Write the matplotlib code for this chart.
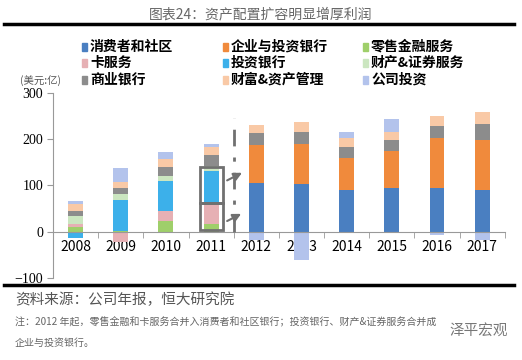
import matplotlib.pyplot as plt
import numpy as np
from matplotlib.patches import Rectangle
from matplotlib.lines import Line2D

plt.rcParams['font.family'] = ['Noto Sans CJK SC', 'DejaVu Sans']

years = ['2008', '2009', '2010', '2011', '2012', '2013', '2014', '2015', '2016', '2017']

# 亿美元, stacked in this order
ccb = [0, 0, 0, 0, 104, 103, 90, 95, 95, 91]          # 消费者和社区
cib = [0, 0, 0, 0, 83, 87, 70, 80, 108, 108]          # 企业与投资银行
rfs = [9, 1, 23, 17, 0, 0, 0, 0, 0, 0]                # 零售金融服务
card = [7, -22, 21, 45, 0, 0, 0, 0, 0, 0]             # 卡服务
ib = [-14, 68, 66, 68, 0, 0, 0, 0, 0, 0]              # 投资银行
tss = [18, 12, 10, 12, 0, 0, 0, 0, 0, 0]              # 财产&证券服务
cb = [11, 13, 20, 24, 26, 25, 23, 24, 25, 34]         # 商业银行
am = [15, 14, 17, 16, 18, 22, 20, 16, 23, 25]         # 财富&资产管理
corp = [7, 30, 15, 8, -19, -62, 12, 28, -7, -18]      # 公司投资

names = ['消费者和社区', '企业与投资银行', '零售金融服务', '卡服务', '投资银行',
         '财产&证券服务', '商业银行', '财富&资产管理', '公司投资']
colors = ['#4a7fc1', '#f08a3c', '#9fcf6a', '#e6b0b4', '#3cb0ea',
          '#cbe6c0', '#8c8c8c', '#f9c9a6', '#b3c3ec']
series = [ccb, cib, rfs, card, ib, tss, cb, am, corp]

fig = plt.figure(figsize=(5.22, 3.6), dpi=100)
ax = fig.add_axes([0.1015, 0.2286, 0.8655, 0.5131])

x = np.arange(len(years))
pos_bottom = np.zeros(len(years))
neg_bottom = np.zeros(len(years))
for vals, c in zip(series, colors):
    v = np.array(vals, dtype=float)
    b = np.where(v >= 0, pos_bottom, neg_bottom)
    ax.bar(x, v, 0.33, bottom=b, color=c, zorder=2)
    pos_bottom += np.where(v > 0, v, 0)
    neg_bottom += np.where(v < 0, v, 0)

ax.set_xlim(-0.5, 9.5)
ax.set_ylim(-100, 300)
ax.set_yticks([-100, 0, 100, 200, 300])
ax.set_xticks(x)
ax.set_xticklabels(years, family='Liberation Serif', fontsize=9.5)
ax.set_xticks(np.arange(-0.5, 10, 1), minor=True)
for lab in ax.get_yticklabels():
    lab.set_family('Liberation Serif')
    lab.set_fontsize(10)

for s in ['top', 'right']:
    ax.spines[s].set_visible(False)
ax.spines['bottom'].set_position(('data', 0))
ax.spines['bottom'].set_color('#999999')
ax.spines['left'].set_color('#999999')
ax.tick_params(axis='x', which='major', length=0, pad=6)
ax.tick_params(axis='x', which='minor', length=4, color='#999999')
ax.tick_params(axis='y', length=4, color='#999999', pad=3)

# 2011 boxes, divider and arrows
box_c = '#707070'
ax.add_patch(Rectangle((2.745, 3), 0.51, 59, fill=False, ec=box_c, lw=2, zorder=3))
ax.add_patch(Rectangle((2.745, 62), 0.51, 78, fill=False, ec=box_c, lw=2, zorder=3))
ax.plot([3.5, 3.5], [0, 246], color=box_c, lw=2, ls=(0, (6, 4, 1.5, 4)), zorder=3)
ax.annotate('', xy=(3.74, 130), xytext=(3.30, 108),
            arrowprops=dict(arrowstyle='-|>', color=box_c, lw=1.5, mutation_scale=12))
ax.annotate('', xy=(3.72, 41), xytext=(3.30, 20),
            arrowprops=dict(arrowstyle='-|>', color=box_c, lw=1.5, mutation_scale=12))

# legend, drawn by hand in three columns
col_x = [82, 223, 363]
row_y = [47, 63, 80]
for i, (n, c) in enumerate(zip(names, colors)):
    cx = col_x[i % 3]
    cy = row_y[i // 3]
    fig.patches.append(Rectangle((cx / 522, 1 - (cy + 3.5) / 360), 5 / 522, 7 / 360,
                                 color=c, transform=fig.transFigure, figure=fig))
    fig.text((cx + 8) / 522, 1 - cy / 360, n, fontsize=10, fontweight='bold',
             va='center', ha='left')

fig.text(20 / 522, 1 - 81 / 360, '(美元:亿)', fontsize=7.5, color='#555555',
         va='center', ha='left')

# title and frame lines
fig.text(0.5, 1 - 14 / 360, '图表24：资产配置扩容明显增厚利润', fontsize=10,
         color='#666666', ha='center', va='center')
fig.add_artist(Line2D([4 / 522, 514 / 522], [1 - 24 / 360] * 2, color='black', lw=2.5))
fig.add_artist(Line2D([4 / 522, 514 / 522], [1 - 285 / 360] * 2, color='black', lw=2.5))

fig.text(15 / 522, 1 - 300 / 360, '资料来源：公司年报，恒大研究院', fontsize=10.5,
         color='#555555', style='italic', ha='left', va='center')
fig.text(15 / 522, 1 - 322 / 360,
         '注：2012 年起，零售金融和卡服务合并入消费者和社区银行；投资银行、财产&证券服务合并成',
         fontsize=7.2, color='#666666', style='italic', ha='left', va='center')
fig.text(15 / 522, 1 - 343 / 360, '企业与投资银行。', fontsize=7.2, color='#666666',
         style='italic', ha='left', va='center')
fig.text(508 / 522, 1 - 331 / 360, '泽平宏观', fontsize=10.5, color='#777777',
         ha='right', va='center')

fig.savefig('out.png', dpi=100)
